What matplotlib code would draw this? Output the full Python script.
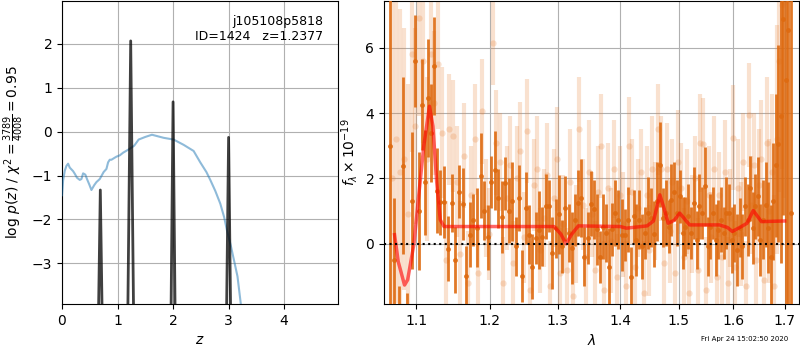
import numpy as np
import matplotlib
matplotlib.use("Agg")
import matplotlib.pyplot as plt
from matplotlib.ticker import FixedLocator, NullLocator, FixedFormatter

# ---------------- left panel data ----------------
pz_z = [0.0, 0.60, 0.613, 0.69, 0.767, 0.78, 1.14, 1.153, 1.237, 1.321, 1.334,
        1.92, 1.934, 2.00, 2.066, 2.08, 2.91, 2.928, 3.00, 3.072, 3.09, 5.0]
pz_logp = [-8, -8, -8, -1.33, -8, -8, -8, -8, 2.07, -8, -8,
           -8, -8, 0.68, -8, -8, -8, -8, -0.13, -8, -8, -8]

prior_z = [0.0, 0.02, 0.05, 0.08, 0.11, 0.14, 0.17, 0.20, 0.23, 0.27, 0.32, 0.35,
           0.38, 0.42, 0.45, 0.49, 0.53, 0.58, 0.62, 0.68,
           0.75, 0.80, 0.83, 0.86, 0.89, 0.98, 1.04, 1.10, 1.22, 1.30, 1.38, 1.50,
           1.62, 1.83, 2.01, 2.10, 2.19, 2.37, 2.49, 2.60, 2.67, 2.76, 2.85, 2.92,
           2.97, 3.04, 3.10, 3.16, 3.22, 3.30]
prior_logp = [-1.45, -1.11, -0.89, -0.78, -0.73, -0.82, -0.86, -0.90, -0.96, -1.05,
              -1.10, -1.08, -0.95, -0.98, -1.08, -1.20, -1.33, -1.22, -1.15, -1.08,
              -0.92, -0.85, -0.70, -0.64, -0.64, -0.57, -0.54, -0.48, -0.39, -0.32,
              -0.18, -0.12, -0.07, -0.14, -0.18, -0.24, -0.30, -0.44, -0.70, -0.92,
              -1.10, -1.35, -1.64, -1.95, -2.25, -2.60, -2.95, -3.30, -3.93, -4.6]

z_ticks = [0, 1, 2, 3, 4]
logp_ticks = [-3, -2, -1, 0, 1, 2]

# ---------------- right panel data ----------------
dark_wave = [1.066, 1.072, 1.078, 1.083, 1.088, 1.094, 1.099, 1.104, 1.108, 1.112,
             1.116, 1.120, 1.124, 1.128, 1.132, 1.137, 1.142, 1.147, 1.152, 1.157,
             1.162, 1.167, 1.172, 1.177, 1.182, 1.187, 1.192, 1.197, 1.202, 1.207,
             1.212, 1.217, 1.222, 1.227, 1.232, 1.237, 1.242, 1.247, 1.252, 1.257,
             1.262, 1.267, 1.272, 1.277, 1.282, 1.287, 1.292, 1.297, 1.302, 1.307,
             1.312, 1.317, 1.322, 1.327, 1.332, 1.337, 1.342, 1.347, 1.352, 1.357,
             1.362, 1.367, 1.372, 1.377, 1.382, 1.387, 1.392, 1.397, 1.402, 1.407,
             1.412, 1.417, 1.422, 1.427, 1.432, 1.437, 1.442, 1.447, 1.452, 1.457,
             1.462, 1.467, 1.472, 1.477, 1.482, 1.487, 1.492, 1.497, 1.502, 1.507,
             1.512, 1.517, 1.522, 1.527, 1.532, 1.537, 1.542, 1.547, 1.552, 1.557,
             1.562, 1.567, 1.572, 1.577, 1.582, 1.587, 1.592, 1.597, 1.602, 1.607,
             1.612, 1.617, 1.622, 1.627, 1.632, 1.637, 1.642, 1.647, 1.652, 1.657,
             1.662, 1.667, 1.672, 1.677, 1.682, 1.687, 1.692, 1.697, 1.702, 1.707,
             1.712]
dark_flux = [3.0, -0.5, -2.4, 2.39, -2.5, 1.32, 5.6, 1.01, 4.26, 1.88,
             4.47, 3.4, 5.44, 1.63, 1.27, 1.27, -0.15, 1.25, -0.49, 1.6,
             1.23, -0.98, 0.28, 0.74, 0.5, 2.09, 1.02, 0.2, 1.9, 2.25,
             1.4, 0.82, 1.85, 1.02, 1.3, -0.08, 1.4, -0.98, 1.09, 0.28,
             -0.7, 0.17, 0.43, 0.22, 1.15, 1.15, -0.29, 0.48, 0.9, -0.08,
             1.09, 0.33, -0.13, 0.74, 1.25, 1.4, -0.39, 0.17, 1.23, 1.06,
             0.44, -0.41, 0.53, 0.33, -0.7, 0.44, 0.94, 0.74, 0.28, 0.28,
             0.74, -1.0, 0.84, 0.12, 0.74, -0.08, 0.33, 0.94, 0.8, 0.3,
             1.3, 2.42, 0.8, 0.94, 0.53, 1.35, 1.6, 0.94, 1.45, 0.33,
             0.53, 0.84, 0.33, 1.25, 0.12, 1.15, 0.94, 1.76, -0.08, 0.53,
             0.94, 0.12, 0.43, 0.74, 0.33, 0.94, 0.94, 0.12, 0.33, -0.2,
             0.5, -0.08, 1.15, 0.74, 1.7, 0.48, 1.15, 1.45, 0.12, 0.74,
             1.2, 0.5, -0.4, 1.3, 2.4, 3.07, 3.9, 6.87, 5.0, 6.53,
             0.94]
dark_err = [9.0, 1.9, 1.1, 2.7, 1.0, 2.1, 1.4, 1.8, 1.4, 1.6,
            1.8, 1.5, 1.5, 1.3, 1.0, 1.1, 1.0, 0.9, 1.0, 0.8,
            1.1, 0.9, 1.0, 0.8, 1.2, 1.3, 0.9, 1.0, 0.8, 1.2,
            0.9, 1.1, 0.8, 1.0, 1.2, 0.9, 1.0, 0.8, 1.1, 0.9,
            1.0, 0.8, 1.2, 0.9, 1.0, 0.8, 1.1, 0.9, 1.2, 0.8,
            1.0, 0.9, 1.1, 0.8, 1.0, 1.2, 0.9, 0.8, 1.0, 0.9,
            1.1, 0.8, 1.0, 0.9, 1.2, 0.8, 1.0, 0.9, 1.1, 0.8,
            1.0, 0.9, 0.8, 1.1, 0.9, 1.0, 0.8, 1.1, 0.9, 1.0,
            1.2, 1.3, 0.9, 1.0, 0.8, 1.1, 0.9, 1.0, 0.8, 1.1,
            0.9, 1.0, 0.8, 1.1, 0.9, 1.0, 0.8, 1.2, 0.9, 1.0,
            0.8, 1.1, 0.9, 1.0, 0.8, 1.1, 0.9, 1.0, 0.9, 1.1,
            0.9, 1.0, 0.9, 1.1, 1.0, 1.1, 1.0, 1.2, 1.1, 1.2,
            1.3, 1.4, 1.6, 1.8, 2.2, 3.0, 4.5, 6.0, 10.0, 10.0,
            10.0]

light_wave = [1.069, 1.074, 1.079, 1.084, 1.089, 1.094, 1.099, 1.104, 1.109, 1.114,
              1.119, 1.124, 1.129, 1.134, 1.139, 1.144, 1.149, 1.154, 1.159, 1.164,
              1.169, 1.174, 1.179, 1.184, 1.189, 1.194, 1.199, 1.204, 1.209, 1.214,
              1.219, 1.224, 1.229, 1.234, 1.239, 1.244, 1.249, 1.254, 1.259, 1.264,
              1.269, 1.274, 1.279, 1.284, 1.289, 1.294, 1.299, 1.304, 1.309, 1.314,
              1.319, 1.324, 1.329, 1.334, 1.339, 1.344, 1.349, 1.354, 1.359, 1.364,
              1.369, 1.374, 1.379, 1.384, 1.389, 1.394, 1.399, 1.404, 1.409, 1.414,
              1.419, 1.424, 1.429, 1.434, 1.439, 1.444, 1.449, 1.454, 1.459, 1.464,
              1.469, 1.474, 1.479, 1.484, 1.489, 1.494, 1.499, 1.504, 1.509, 1.514,
              1.519, 1.524, 1.529, 1.534, 1.539, 1.544, 1.549, 1.554, 1.559, 1.564,
              1.569, 1.574, 1.579, 1.584, 1.589, 1.594, 1.599, 1.604, 1.609, 1.614,
              1.619, 1.624, 1.629, 1.634, 1.639, 1.644, 1.649, 1.654, 1.659, 1.664,
              1.669, 1.674, 1.679, 1.684, 1.689, 1.694, 1.699]
light_flux = [2.0, 3.2, 2.2, 2.6, 0.9, 5.8, 3.6, 6.9, 5.6, 2.6,
              5.8, 4.3, 5.5, 3.4, -0.5, 3.5, 3.3, 1.9, -0.3, 2.7,
              -1.2, 1.5, 3.2, -0.9, 4.05, 1.1, 0.3, 6.15, 3.1, 2.5,
              -1.2, 1.4, 2.4, -0.6, 2.0, 2.85, 0.2, 3.45, -1.4, 1.8,
              2.3, -0.2, 0.8, 2.1, -1.3, 1.4, 2.6, -0.9, 0.6, -0.8,
              1.9, -1.6, 0.3, 3.5, 1.2, -0.4, 2.2, 0.9, -0.8, 1.6,
              3.0, -1.4, 1.7, 0.1, 2.3, -1.0, 1.5, 0.6, -1.3, 3.0,
              1.6, -0.7, 1.1, 2.2, -1.5, 1.5, -0.2, 2.3, 1.0, 3.5,
              2.3, -0.6, 2.3, 0.4, 1.9, -0.9, 2.5, 1.7, -0.4, 1.3,
              -1.5, 0.6, 2.0, -0.8, 3.1, 3.05, -1.4, 1.5, 0.2, 2.3,
              -1.0, 1.5, -0.4, 2.2, -1.2, 0.8, 3.25, -0.7, 1.7, 0.3,
              2.5, -1.3, 3.94, 1.2, 2.4, -0.5, 1.8, 2.6, -1.1, 3.1,
              1.0, 2.2, -1.3, 3.2, 5.6, 7.3, 7.4]
light_err = [6.0, 5.0, 5.0, 4.0, 4.0, 3.0, 3.0, 3.0, 2.5, 2.5,
             2.5, 2.2, 2.0, 2.0, 1.8, 1.7, 1.7, 1.7, 1.6, 1.6,
             1.6, 1.5, 1.7, 1.4, 1.6, 1.5, 1.4, 1.3, 1.6, 1.5,
             1.4, 1.6, 1.5, 1.3, 1.6, 1.5, 1.4, 1.6, 1.5, 1.4,
             1.6, 1.3, 1.5, 1.6, 1.4, 1.5, 1.6, 1.4, 1.5, 1.3,
             1.6, 1.4, 1.5, 1.6, 1.4, 1.5, 1.6, 1.3, 1.5, 1.4,
             1.6, 1.5, 1.4, 1.6, 1.5, 1.3, 1.5, 1.6, 1.4, 1.5,
             1.6, 1.4, 1.5, 1.3, 1.6, 1.5, 1.4, 1.6, 1.5, 1.4,
             1.6, 1.5, 1.4, 1.6, 1.3, 1.5, 1.6, 1.4, 1.5, 1.6,
             1.4, 1.5, 1.3, 1.6, 1.5, 1.4, 1.6, 1.5, 1.4, 1.6,
             1.5, 1.3, 1.5, 1.6, 1.4, 1.5, 1.6, 1.4, 1.5, 1.6,
             1.5, 1.4, 1.6, 1.5, 1.6, 1.6, 1.7, 1.8, 1.9, 2.0,
             2.2, 2.4, 2.8, 3.5, 4.0, 5.0, 6.0]

model_wave = [1.0723, 1.077, 1.085, 1.089, 1.0935, 1.0971, 1.103, 1.110, 1.1174,
              1.122, 1.127, 1.1317, 1.1368, 1.2946, 1.305, 1.313, 1.322, 1.3323,
              1.40, 1.41, 1.445, 1.456, 1.4669, 1.474, 1.4814, 1.492, 1.5018,
              1.5194, 1.574, 1.589, 1.598, 1.612, 1.626, 1.638, 1.654, 1.700]
model_flux = [0.28, -0.55, -1.26, -1.1, -0.49, 0.0, 1.4, 3.0, 4.21,
              3.6, 1.9, 0.74, 0.53, 0.53, 0.3, 0.0, 0.3, 0.55,
              0.53, 0.48, 0.55, 0.7, 1.50, 1.1, 0.63, 0.72, 0.94,
              0.58, 0.58, 0.5, 0.38, 0.5, 0.63, 1.02, 0.68, 0.70]

wave_ticks = [1.1, 1.2, 1.3, 1.4, 1.5, 1.6, 1.7]
flux_ticks = [0, 2, 4, 6]

# ---------------- figure ----------------
fig = plt.figure(figsize=(8, 3.5), dpi=100)
ax1 = fig.add_axes([62/800, 46/350, 276/800, 303/350])
ax2 = fig.add_axes([384/800, 46/350, 415/800, 303/350])

ax1.plot(prior_z, prior_logp, color='#1f77b4', alpha=0.5, lw=1.5, zorder=3)
ax1.plot(pz_z, pz_logp, color='k', alpha=0.75, lw=2, zorder=4)
ax1.set_xlim(0, 4.97)
ax1.set_ylim(-3.93, 2.98)
ax1.set_xticks(z_ticks)
ax1.set_yticks(logp_ticks)
ax1.grid(True)
ax1.set_axisbelow(True)
ax1.set_xlabel('$z$')
ax1.set_ylabel(r'log $p(z)$ / $\chi^2=\frac{3789}{4008}=0.95$')
ax1.text(0.945, 0.955, 'j105108p5818\nID=1424   z=1.2377', ha='right', va='top',
         transform=ax1.transAxes, fontsize=9, linespacing=1.2)

col = '#de6a10'
ax2.errorbar(light_wave, light_flux, yerr=light_err, marker='o', ms=4.5, ls='none',
             color='#e7823a', alpha=0.24, elinewidth=3, mew=0, zorder=2)
ax2.errorbar(dark_wave, dark_flux, yerr=dark_err, marker='o', ms=3.5, ls='none',
             color=col, alpha=0.9, elinewidth=2, mew=0, zorder=3)
ax2.plot(model_wave, model_flux, color='r', alpha=0.6, lw=2.5, zorder=5)
ax2.axhline(0, color='k', ls=':', lw=1.5, zorder=6)

ax2.set_xscale('log')
ax2.set_xlim(1.059, 1.729)
ax2.set_ylim(-1.84, 7.43)
ax2.xaxis.set_major_locator(FixedLocator(wave_ticks))
ax2.xaxis.set_major_formatter(FixedFormatter([f'{w:.1f}' for w in wave_ticks]))
ax2.xaxis.set_minor_locator(NullLocator())
ax2.set_yticks(flux_ticks)
ax2.grid(True)
ax2.set_axisbelow(True)
ax2.set_xlabel(r'$\lambda$')
ax2.set_ylabel(r'$f_\lambda\times10^{-19}$')

fig.text(788/800, 11/350, 'Fri Apr 24 15:02:50 2020', ha='right', va='center', fontsize=5)

fig.savefig('out.png', dpi=100)
